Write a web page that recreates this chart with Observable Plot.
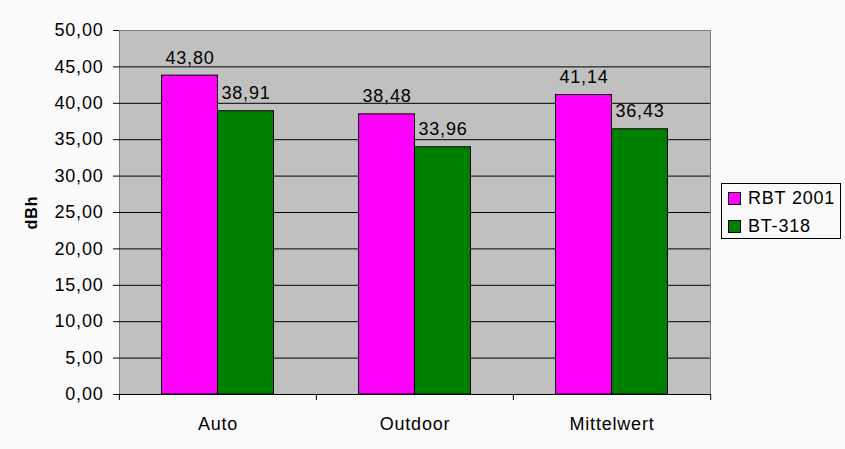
<!DOCTYPE html>
<html>
<head>
<meta charset="utf-8">
<script src="https://cdn.jsdelivr.net/npm/d3@7"></script>
<script src="https://cdn.jsdelivr.net/npm/@observablehq/plot@0.6"></script>
<style>
  html, body { margin: 0; padding: 0; background: #fafafa; }
  #wrap { position: relative; width: 845px; height: 449px; font-family: "Liberation Sans", Arial, sans-serif; }
  #wrap svg text { letter-spacing: 0.8px; }
  #wrap svg g[aria-label="y-axis label"] text { font-weight: bold; font-size: 16px; letter-spacing: 1px; }
  #legend {
    position: absolute; left: 721px; top: 183px; width: 120px; height: 56px;
    border: 1px solid #000; box-sizing: border-box; font-size: 18px; color: #000; letter-spacing: 0.8px;
  }
  #legend .item { position: absolute; left: 6px; display: flex; align-items: center; }
  #legend .sw { width: 11px; height: 11px; border: 1px solid #000; margin-right: 7px; }
</style>
</head>
<body>
<div id="wrap"></div>
<script>
const categories = ["Auto", "Outdoor", "Mittelwert"];
const series = ["RBT 2001", "BT-318"];
const rbt2001 = [43.80, 38.48, 41.14];
const bt318 = [38.91, 33.96, 36.43];
const yTicks = [0, 5, 10, 15, 20, 25, 30, 35, 40, 45, 50];
const colors = ["#ff00ff", "#008000"];

const values = [rbt2001, bt318];
const table = categories.flatMap((cat, i) =>
  series.map((s, j) => ({cat, series: s, value: values[j][i]}))
);
const fmt = d => d.toFixed(2).replace(".", ",");

const W = 845, H = 449, ML = 118, MR = 135, MT = 30, MB = 55;
const halfBand = (W - ML - MR) / categories.length / 2;

const chart = Plot.plot({
  width: W, height: H,
  marginLeft: ML, marginRight: MR, marginTop: MT, marginBottom: MB,
  style: {fontFamily: "'Liberation Sans', Arial, sans-serif", fontSize: "18px", color: "#000", background: "transparent"},
  fx: {domain: categories, padding: 0, axis: null},
  x: {domain: series, paddingInner: 0, paddingOuter: 0.76, round: false, axis: null},
  y: {domain: [0, 50], ticks: yTicks, tickFormat: fmt, line: true, tickSize: 6, tickPadding: 10,
      label: "dBh", labelAnchor: "center", labelOffset: 94, labelArrow: false},
  color: {domain: series, range: colors},
  marks: [
    Plot.frame({facet: "super", fill: "#c0c0c0", stroke: "#808080"}),
    Plot.ruleY(yTicks.filter(d => d > 0 && d < 50), {stroke: "#000"}),
    Plot.ruleY([0], {stroke: "#000"}),
    Plot.barY(table, {fx: "cat", x: "series", y: "value", fill: "series", stroke: "#000", strokeWidth: 1}),
    Plot.text(table, {fx: "cat", x: "series", y: "value", text: d => fmt(d.value), lineAnchor: "bottom", dy: -12, fill: "#000"}),
    Plot.axisFx({anchor: "bottom", tickSize: 0, tickPadding: 23, label: null}),
    Plot.axisFx({anchor: "bottom", tickSize: 6, tickFormat: () => "", label: null, dx: -halfBand}),
    Plot.axisFx({anchor: "bottom", ticks: [categories[categories.length - 1]], tickSize: 6, tickFormat: () => "", label: null, dx: halfBand})
  ]
});
const wrap = document.getElementById("wrap");
wrap.appendChild(chart);

const legend = document.createElement("div");
legend.id = "legend";
series.forEach((s, i) => {
  const item = document.createElement("div");
  item.className = "item";
  item.style.top = (4 + i * 27.5) + "px";
  const sw = document.createElement("div");
  sw.className = "sw";
  sw.style.background = colors[i];
  const t = document.createElement("span");
  t.textContent = s;
  item.appendChild(sw);
  item.appendChild(t);
  legend.appendChild(item);
});
wrap.appendChild(legend);
</script>
</body>
</html>
